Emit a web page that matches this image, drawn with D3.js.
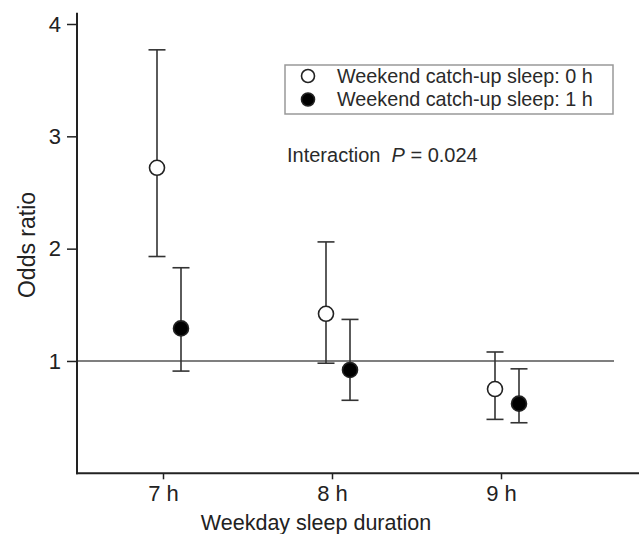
<!DOCTYPE html>
<html>
<head>
<meta charset="utf-8">
<script src="https://cdn.jsdelivr.net/npm/d3@7"></script>
<style>
  body { margin: 0; background: #fff; }
  svg { display: block; font-family: "Liberation Sans", Arial, sans-serif; }
</style>
</head>
<body>
<div id="chart"></div>
<script>
// data
var categories = ["7 h", "8 h", "9 h"];
var yTicks = [1, 2, 3, 4];
// catch-up 0 h (open)
var or0 = [2.72, 1.42, 0.75];
var lo0 = [1.93, 0.98, 0.48];
var hi0 = [3.77, 2.06, 1.08];
// catch-up 1 h (filled)
var or1 = [1.29, 0.92, 0.62];
var lo1 = [0.91, 0.65, 0.45];
var hi1 = [1.83, 1.37, 0.93];
var seriesNames = ["Weekend catch-up sleep: 0 h", "Weekend catch-up sleep: 1 h"];

var svgWidth = 639, svgHeight = 534;
var axisLeftX = 77;

var svg = d3.select("#chart").append("svg")
  .attr("width", svgWidth)
  .attr("height", svgHeight);

var x = d3.scalePoint().domain(categories).range([163, 501]);
var y = d3.scaleLinear().domain([0, 4]).range([473.3, 24]);

var series = [
  { name: seriesNames[0], est: or0, lo: lo0, hi: hi0, dx: -6, fill: "#fff" },
  { name: seriesNames[1], est: or1, lo: lo1, hi: hi1, dx: 18, fill: "#000" }
];

// reference line at OR = 1
svg.append("line")
  .attr("x1", axisLeftX).attr("x2", 614)
  .attr("y1", y(1)).attr("y2", y(1))
  .attr("stroke", "#555").attr("stroke-width", 1.5);

// axes
var xAxis = svg.append("g")
  .attr("transform", `translate(0, ${y(0)})`)
  .call(d3.axisBottom(x).tickSize(6).tickPadding(6));
xAxis.select(".domain").remove();
xAxis.selectAll("line").attr("stroke", "#222").attr("stroke-width", 1.5);
xAxis.selectAll("text").attr("font-size", "22px").attr("fill", "#222")
  .attr("font-family", "Liberation Sans, Arial, sans-serif");

var yAxis = svg.append("g")
  .attr("transform", `translate(${axisLeftX}, 0)`)
  .call(d3.axisLeft(y).tickValues(yTicks).tickSize(10).tickPadding(6).tickFormat(d3.format("d")));
yAxis.select(".domain").remove();
yAxis.selectAll("line").attr("stroke", "#222").attr("stroke-width", 1.5);
yAxis.selectAll("text").attr("font-size", "22px").attr("fill", "#222")
  .attr("font-family", "Liberation Sans, Arial, sans-serif");

svg.append("line")
  .attr("x1", axisLeftX).attr("x2", axisLeftX)
  .attr("y1", y(4.1)).attr("y2", y(0) + 1)
  .attr("stroke", "#222").attr("stroke-width", 2);
svg.append("line")
  .attr("x1", axisLeftX - 1).attr("x2", svgWidth)
  .attr("y1", y(0)).attr("y2", y(0))
  .attr("stroke", "#222").attr("stroke-width", 2);

// error bars + points
series.forEach(function(s) {
  var g = svg.append("g");
  var idx = d3.range(categories.length);
  var cx = i => x(categories[i]) + s.dx;

  g.selectAll(".stem").data(idx).join("line")
    .attr("x1", cx).attr("x2", cx)
    .attr("y1", i => y(s.hi[i])).attr("y2", i => y(s.lo[i]))
    .attr("stroke", "#333").attr("stroke-width", 1.6);

  g.selectAll(".capHi").data(idx).join("line")
    .attr("x1", i => cx(i) - 8.5).attr("x2", i => cx(i) + 8.5)
    .attr("y1", i => y(s.hi[i])).attr("y2", i => y(s.hi[i]))
    .attr("stroke", "#333").attr("stroke-width", 1.6);

  g.selectAll(".capLo").data(idx).join("line")
    .attr("x1", i => cx(i) - 8.5).attr("x2", i => cx(i) + 8.5)
    .attr("y1", i => y(s.lo[i])).attr("y2", i => y(s.lo[i]))
    .attr("stroke", "#333").attr("stroke-width", 1.6);

  g.selectAll("circle").data(idx).join("circle")
    .attr("cx", cx)
    .attr("cy", i => y(s.est[i]))
    .attr("r", 7.5)
    .attr("fill", s.fill)
    .attr("stroke", "#222")
    .attr("stroke-width", 1.6);
});

// legend
var legend = svg.append("g");
legend.append("rect")
  .attr("x", 285).attr("y", 65)
  .attr("width", 328).attr("height", 49)
  .attr("fill", "#fff").attr("stroke", "#999").attr("stroke-width", 1.5);

series.forEach(function(s, i) {
  var ly = 76 + i * 23.5;
  legend.append("circle")
    .attr("cx", 308).attr("cy", ly).attr("r", 6.5)
    .attr("fill", s.fill).attr("stroke", "#222").attr("stroke-width", 1.6);
  legend.append("text")
    .attr("x", 337).attr("y", ly)
    .attr("dy", "0.35em")
    .attr("font-size", "19.8px").attr("fill", "#2a2a2a")
    .text(s.name);
});

// interaction annotation
var note = svg.append("text")
  .attr("x", 287).attr("y", 162)
  .attr("font-size", "20px").attr("fill", "#2a2a2a");
note.append("tspan").text("Interaction\u00a0\u00a0");
note.append("tspan").attr("font-style", "italic").text("P");
note.append("tspan").text(" = 0.024");

// axis titles
svg.append("text")
  .attr("x", 316).attr("y", 530)
  .attr("text-anchor", "middle")
  .attr("font-size", "21.5px").attr("fill", "#222")
  .text("Weekday sleep duration");

svg.append("text")
  .attr("transform", "translate(35, 245) rotate(-90)")
  .attr("text-anchor", "middle")
  .attr("font-size", "23px").attr("fill", "#222")
  .text("Odds ratio");
</script>
</body>
</html>
